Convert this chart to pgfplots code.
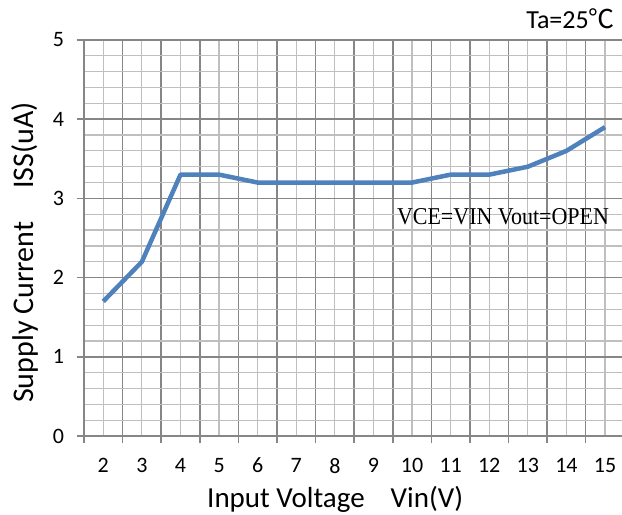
\documentclass[border=0pt]{standalone}
\usepackage{pgfplots}
\pgfplotsset{compat=1.18}
\usepackage{graphicx}
\usepackage{fontspec}
\setmainfont{Carlito}
\newfontfamily\serifcap{Liberation Serif}
\newfontfamily\cjk{Noto Sans CJK SC}
\definecolor{lineblue}{RGB}{79,129,189}
\definecolor{gmajor}{RGB}{134,134,134}
\definecolor{gminor}{RGB}{191,191,191}
\begin{document}
\begin{tikzpicture}
\useasboundingbox (0,0) rectangle (622bp,515bp);
\begin{axis}[
  at={(84bp,79bp)}, anchor=south west,
  scale only axis, width=538bp, height=396bp,
  xmin=1.5, xmax=15.44, ymin=0, ymax=5,
  axis x line=bottom, axis y line=left,
  axis line style={-, draw=gmajor, line width=1.5bp},
  xtick={1.5,2.5,3.5,4.5,5.5,6.5,7.5,8.5,9.5,10.5,11.5,12.5,13.5,14.5},
  xticklabels={2,3,4,5,6,7,8,9,10,11,12,13,14,15},
  minor xtick={2,3,4,5,6,7,8,9,10,11,12,13,14,15},
  ytick={0,1,2,3,4,5},
  minor ytick={0.2,0.4,0.6,0.8,1.2,1.4,1.6,1.8,2.2,2.4,2.6,2.8,3.2,3.4,3.6,3.8,4.2,4.4,4.6,4.8},
  grid=both,
  major grid style={draw=gmajor, line width=1.5bp},
  minor grid style={draw=gminor, line width=1.2bp},
  tick align=outside,
  major tick length=7.5bp, minor tick length=0bp,
  every major tick/.append style={draw=gmajor, line width=1.5bp},
  every minor tick/.append style={draw=none},
  /pgf/number format/assume math mode=true,
  every tick label/.append style={font=\fontsize{22bp}{22bp}\selectfont, text=black},
  xticklabel style={xshift=19.3bp, yshift=-11bp},
  yticklabel style={xshift=-9bp},
  clip=false,
]
\addplot[lineblue, line width=4.5bp, line join=round] coordinates {
  (2,1.7) (3,2.2) (4,3.3) (5,3.3) (6,3.2) (7,3.2) (8,3.2) (9,3.2)
  (10,3.2) (11,3.3) (12,3.3) (13,3.4) (14,3.6) (15,3.9)
};
\end{axis}
\node[font=\fontsize{29bp}{29bp}\selectfont, anchor=base west, inner sep=0pt] at (207bp,8bp) {Input Voltage\hspace{26bp}Vin(V)};
\node[font=\fontsize{30bp}{30bp}\selectfont, rotate=90, anchor=base west, inner sep=0pt] at (33bp,112bp) {Supply Current};
\node[font=\fontsize{30bp}{30bp}\selectfont, rotate=90, anchor=base east, inner sep=0pt] at (33bp,413bp) {ISS(uA)};
\node[font=\fontsize{26bp}{26bp}\selectfont, anchor=base east, inner sep=0pt] at (615bp,486bp) {Ta=25{\cjk ℃}};
\node at (503bp,298bp) {\resizebox{212bp}{16bp}{\serifcap VCE=VIN Vout=OPEN}};
\end{tikzpicture}
\end{document}
